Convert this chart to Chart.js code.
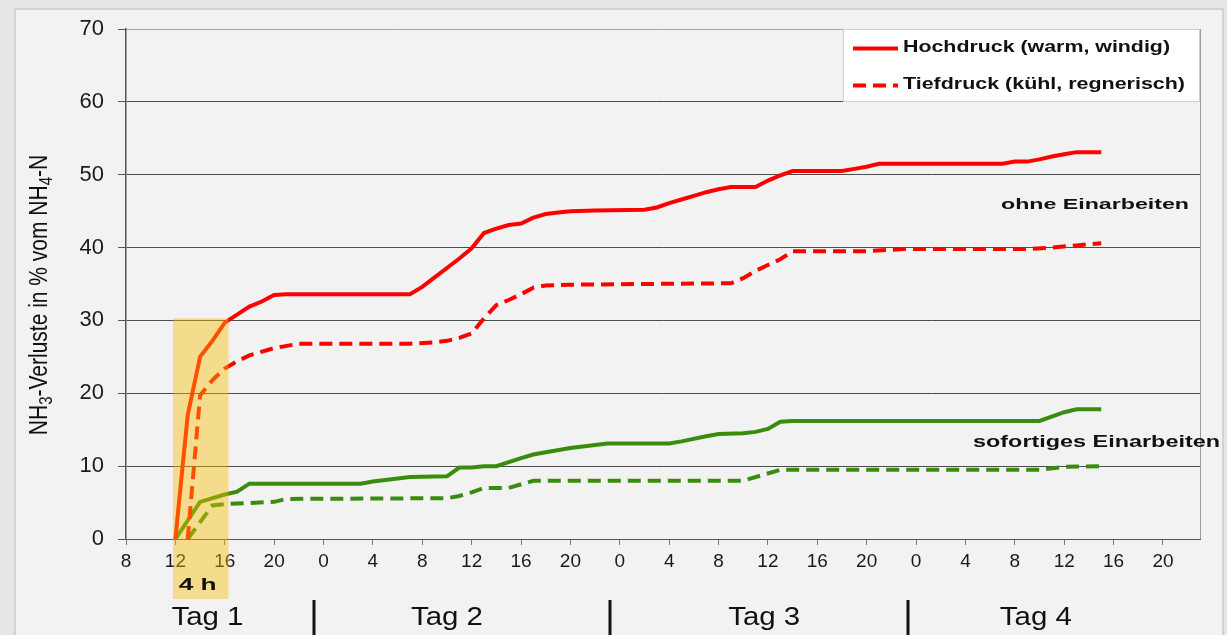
<!DOCTYPE html>
<html>
<head>
<meta charset="utf-8">
<script src="https://cdn.jsdelivr.net/npm/chart.js@4.4.1/dist/chart.umd.min.js"></script>
<style>
    html, body { margin: 0; padding: 0; background: #e6e6e6; overflow: hidden; }
    #panel { position: absolute; left: 14px; top: 8px; width: 1210px; height: 700px; background: #f2f2f2; border: 2px solid #d2d2d2; box-sizing: border-box; }
    #lossChart { position: absolute; left: 0; top: 0; }
</style>
</head>
<body>
<div id="panel"></div>
<canvas id="lossChart" width="1227" height="635"></canvas>
<script>
'use strict';

// hours counted from day 1, 0:00
let hochOhneHours = [12, 13, 14, 15, 16, 17, 18, 19, 20, 21, 31, 32, 33, 34, 35, 36, 37, 38, 39, 40, 41, 42, 43, 44, 46, 50, 51, 52, 53, 54, 55, 56, 57, 59, 60, 61, 62, 66, 67, 68, 69, 79, 80, 81, 82, 83, 84, 85, 87];
let hochOhneValues = [0, 17, 25, 27.2, 29.7, 30.8, 31.9, 32.6, 33.5, 33.6, 33.6, 34.6, 35.9, 37.2, 38.5, 39.9, 42.0, 42.6, 43.1, 43.3, 44.1, 44.6, 44.8, 45.0, 45.1, 45.2, 45.5, 46.1, 46.6, 47.1, 47.6, 48.0, 48.3, 48.3, 49.2, 49.9, 50.5, 50.5, 50.8, 51.1, 51.5, 51.5, 51.8, 51.8, 52.1, 52.5, 52.8, 53.1, 53.1];

let tiefOhneHours = [13, 14, 15, 16, 17, 18, 20, 22, 31, 33, 34, 35, 36, 37, 38, 39, 40, 41, 42, 44, 50, 57, 58, 59, 60, 61, 62, 68, 71, 81, 83, 85, 87];
let tiefOhneValues = [0, 19.7, 21.8, 23.4, 24.4, 25.2, 26.2, 26.8, 26.8, 27.0, 27.2, 27.6, 28.2, 30.3, 32.1, 32.8, 33.6, 34.5, 34.8, 34.9, 35.0, 35.1, 35.8, 36.8, 37.6, 38.4, 39.5, 39.5, 39.8, 39.8, 40.0, 40.3, 40.6];

let hochSofortHours = [12, 14, 16, 17, 18, 27, 28, 31, 34, 35, 36, 37, 38, 40, 41, 42, 44, 47, 52, 53, 55, 56, 58, 59, 60, 61, 62, 82, 84, 85, 87];
let hochSofortValues = [0, 5.1, 6.1, 6.5, 7.6, 7.6, 7.9, 8.5, 8.6, 9.8, 9.8, 10.0, 10.0, 11.1, 11.6, 11.9, 12.5, 13.1, 13.1, 13.4, 14.1, 14.4, 14.5, 14.7, 15.1, 16.1, 16.2, 16.2, 17.4, 17.8, 17.8];

let tiefSofortHours = [13, 15, 16, 20, 21, 34, 35, 36, 37, 39, 41, 58, 61, 82, 84, 87];
let tiefSofortValues = [0, 4.6, 4.8, 5.1, 5.5, 5.6, 5.9, 6.4, 7.0, 7.0, 8.0, 8.0, 9.5, 9.5, 9.9, 10.0];

let seriesLabels = ['Hochdruck (warm, windig)', 'Tiefdruck (kühl, regnerisch)'];
let dayLabels = ['Tag 1', 'Tag 2', 'Tag 3', 'Tag 4'];
let dayCenters = [14.6, 34.0, 59.7, 81.7];
let daySeparators = [23.2, 47.2, 71.35];

const FONT = '"Liberation Sans", Arial, sans-serif';
const RED = '#ff0000';
const GREEN = '#3a8d0c';

function toPoints(hours, values) {
    return hours.map((h, i) => ({x: h, y: values[i]}));
}

// draws text squeezed/stretched to a given width (the source image is stretched horizontally)
function fitText(ctx, text, x, y, font, width, align) {
    ctx.save();
    ctx.font = font;
    let w = ctx.measureText(text).width;
    ctx.translate(x, y);
    ctx.scale(width / w, 1);
    ctx.textAlign = align || 'left';
    ctx.textBaseline = 'middle';
    ctx.fillStyle = '#111';
    ctx.fillText(text, 0, 0);
    ctx.restore();
}

function drawYTitle(ctx) {
    let parts = [['NH', false], ['3', true], ['-Verluste in % vom NH', false], ['4', true], ['-N', false]];
    let big = '21px ' + FONT, small = '15px ' + FONT;
    ctx.save();
    let total = 0;
    for (let p of parts) {
        ctx.font = p[1] ? small : big;
        total += ctx.measureText(p[0]).width;
    }
    ctx.translate(47, 295);
    ctx.rotate(-Math.PI / 2);
    ctx.scale(1, 1.25);
    ctx.fillStyle = '#111';
    ctx.textBaseline = 'alphabetic';
    let pos = -total / 2;
    for (let p of parts) {
        ctx.font = p[1] ? small : big;
        ctx.fillText(p[0], pos, p[1] ? 4 : 0);
        pos += ctx.measureText(p[0]).width;
    }
    ctx.restore();
}

const decorations = {
    id: 'decorations',
    beforeDatasetsDraw(chart) {
        let ctx = chart.ctx, area = chart.chartArea;
        ctx.save();
        ctx.strokeStyle = '#9a9a9a';
        ctx.lineWidth = 1;
        ctx.beginPath();
        ctx.moveTo(area.right + 0.5, area.top);
        ctx.lineTo(area.right + 0.5, area.bottom);
        ctx.stroke();
        ctx.restore();
    },
    afterDraw(chart) {
        let ctx = chart.ctx, xs = chart.scales.x, ys = chart.scales.y;

        // 4 h window
        let bx1 = xs.getPixelForValue(11.8), bx2 = xs.getPixelForValue(16.3);
        let by1 = ys.getPixelForValue(30.3);
        ctx.save();
        ctx.fillStyle = 'rgba(250, 190, 0, 0.42)';
        ctx.fillRect(bx1, by1, bx2 - bx1, 599 - by1);
        ctx.restore();
        fitText(ctx, '4 h', (bx1 + bx2) / 2 - 3, 585.5, 'bold 17px ' + FONT, 38, 'center');

        // day labels and separators
        dayLabels.forEach((lab, i) => {
            fitText(ctx, lab, xs.getPixelForValue(dayCenters[i]), 618, '25px ' + FONT, 72, 'center');
        });
        ctx.save();
        ctx.strokeStyle = '#111';
        ctx.lineWidth = 3;
        for (let h of daySeparators) {
            let px = Math.round(xs.getPixelForValue(h));
            ctx.beginPath();
            ctx.moveTo(px, 600);
            ctx.lineTo(px, 635);
            ctx.stroke();
        }
        ctx.restore();

        // annotations
        fitText(ctx, 'ohne Einarbeiten', 1001, 205, 'bold 15px ' + FONT, 188);
        fitText(ctx, 'sofortiges Einarbeiten', 973, 442, 'bold 17px ' + FONT, 247);

        // legend
        ctx.save();
        ctx.fillStyle = '#ffffff';
        ctx.fillRect(843, 29, 356, 73);
        ctx.strokeStyle = '#d0d0d0';
        ctx.lineWidth = 1;
        ctx.strokeRect(843.5, 29.5, 356, 72);
        let rows = [48.5, 85.5];
        let widths = [267, 282];
        seriesLabels.forEach((lab, i) => {
            let ds = chart.data.datasets[i];
            ctx.save();
            ctx.strokeStyle = ds.borderColor;
            ctx.lineWidth = ds.borderWidth;
            ctx.setLineDash(ds.borderDash || []);
            ctx.beginPath();
            ctx.moveTo(853, rows[i]);
            ctx.lineTo(898, rows[i]);
            ctx.stroke();
            ctx.restore();
            fitText(ctx, lab, 903, rows[i] - 1, 'bold 16px ' + FONT, widths[i]);
        });
        ctx.restore();

        drawYTitle(ctx);
    }
};

new Chart(document.querySelector('#lossChart'), {
    type: 'line',
    data: {
        datasets: [
            {
                label: seriesLabels[0],
                data: toPoints(hochOhneHours, hochOhneValues),
                borderColor: RED, borderWidth: 4, pointRadius: 0, fill: false, tension: 0
            },
            {
                label: seriesLabels[1],
                data: toPoints(tiefOhneHours, tiefOhneValues),
                borderColor: RED, borderWidth: 4, borderDash: [13, 7], pointRadius: 0, fill: false, tension: 0
            },
            {
                label: 'Hochdruck, sofortiges Einarbeiten',
                data: toPoints(hochSofortHours, hochSofortValues),
                borderColor: GREEN, borderWidth: 4, pointRadius: 0, fill: false, tension: 0
            },
            {
                label: 'Tiefdruck, sofortiges Einarbeiten',
                data: toPoints(tiefSofortHours, tiefSofortValues),
                borderColor: GREEN, borderWidth: 4, borderDash: [13, 7], pointRadius: 0, fill: false, tension: 0
            }
        ]
    },
    options: {
        responsive: false,
        animation: false,
        layout: {padding: {left: 0, top: 29, right: 27, bottom: 0}},
        plugins: {
            legend: {display: false},
            tooltip: {enabled: false}
        },
        scales: {
            x: {
                type: 'linear',
                min: 8,
                max: 95,
                afterFit: s => { s.height = 96; },
                grid: {drawOnChartArea: false, drawTicks: true, tickLength: 6, color: '#777'},
                border: {color: '#555', width: 1},
                ticks: {
                    stepSize: 4, includeBounds: false, autoSkip: false, maxRotation: 0, padding: 5,
                    color: '#1a1a1a', font: {family: FONT, size: 19},
                    callback: v => v % 24
                }
            },
            y: {
                min: 0,
                max: 70,
                afterFit: s => { s.width = 126; },
                grid: {
                    color: c => (c.tick && c.tick.value === 70) ? '#a8a8a8' : '#4d4d4d',
                    tickColor: '#555', tickLength: 8
                },
                border: {color: '#555', width: 1.5},
                ticks: {stepSize: 10, padding: 14, color: '#1a1a1a', font: {family: FONT, size: 22}}
            }
        }
    },
    plugins: [decorations]
});
</script>
</body>
</html>
